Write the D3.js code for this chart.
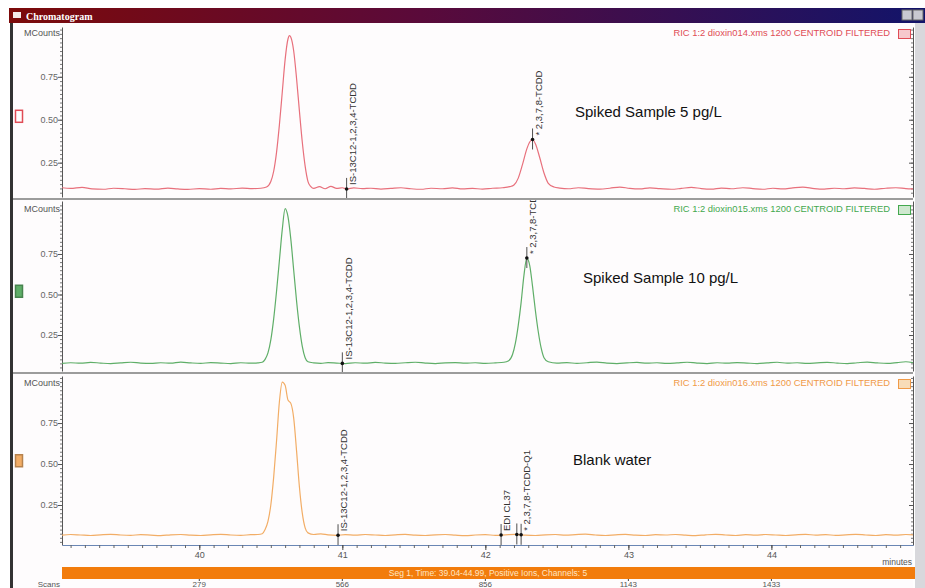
<!DOCTYPE html>
<html>
<head>
<meta charset="utf-8">
<script src="https://cdn.jsdelivr.net/npm/d3@7"></script>
<style>
body { margin: 0; background: #fff; }
svg { display: block; font-family: "Liberation Sans", Arial, sans-serif; }
</style>
</head>
<body>
<div id="chart"></div>
<script>
//Data
var panelNames = ["Spiked Sample 5 pg/L", "Spiked Sample 10 pg/L", "Blank water"];
var panelFiles = ["RIC 1:2 dioxin014.xms 1200 CENTROID FILTERED",
                  "RIC 1:2 dioxin015.xms 1200 CENTROID FILTERED",
                  "RIC 1:2 dioxin016.xms 1200 CENTROID FILTERED"];
var panelDomains = [[0.05, 1.04], [0.028, 1.077], [0.006, 1.037]];
var yTicks = [0.25, 0.50, 0.75];
var minuteTicks = [40, 41, 42, 43, 44];
var scanLabels = ["279", "566", "856", "1143", "1433"];
var timeRange = [39.04, 44.99];

var traceRed = [
  [39.04,0.104],[39.10,0.100],[39.18,0.106],[39.25,0.097],[39.33,0.095],[39.40,0.101],[39.48,0.098],[39.55,0.094],
  [39.62,0.099],[39.70,0.096],[39.78,0.102],[39.85,0.097],[39.92,0.094],[40.00,0.099],[40.08,0.095],[40.15,0.100],
  [40.22,0.097],[40.30,0.102],[40.37,0.099],[40.43,0.101],[40.47,0.108],
  [40.50,0.14],[40.52,0.20],[40.54,0.31],[40.56,0.47],[40.58,0.66],[40.60,0.85],[40.62,0.97],[40.63,0.99],
  [40.64,0.98],[40.66,0.90],[40.68,0.74],[40.70,0.55],[40.72,0.37],[40.74,0.23],[40.76,0.14],[40.78,0.11],
  [40.80,0.100],[40.84,0.110],[40.88,0.098],[40.92,0.112],[40.96,0.100],[41.00,0.104],[41.03,0.097],[41.08,0.103],
  [41.14,0.099],[41.20,0.101],[41.27,0.096],[41.34,0.100],[41.41,0.104],[41.48,0.098],[41.55,0.095],[41.62,0.101],
  [41.70,0.098],[41.77,0.103],[41.84,0.097],[41.91,0.100],[41.98,0.096],[42.05,0.101],[42.12,0.104],[42.17,0.110],
  [42.20,0.12],[42.23,0.16],[42.26,0.24],[42.29,0.33],[42.31,0.37],[42.33,0.385],[42.35,0.36],[42.38,0.28],
  [42.41,0.19],[42.44,0.13],[42.48,0.108],
  [42.52,0.102],[42.58,0.098],[42.65,0.104],[42.72,0.099],[42.80,0.096],[42.87,0.101],[42.94,0.108],[43.01,0.100],
  [43.08,0.097],[43.15,0.103],[43.22,0.099],[43.30,0.095],[43.37,0.100],[43.44,0.106],[43.51,0.099],[43.58,0.096],
  [43.65,0.102],[43.72,0.098],[43.80,0.104],[43.87,0.099],[43.94,0.095],[44.01,0.101],[44.08,0.097],[44.15,0.103],
  [44.22,0.107],[44.30,0.099],[44.37,0.096],[44.44,0.101],[44.51,0.098],[44.58,0.103],[44.65,0.100],[44.72,0.095],
  [44.80,0.101],[44.87,0.104],[44.94,0.099],[44.99,0.097]
];

var traceGreen = [
  [39.04,0.075],[39.10,0.079],[39.17,0.076],[39.24,0.081],[39.31,0.077],[39.38,0.074],[39.45,0.078],[39.52,0.082],
  [39.59,0.077],[39.66,0.075],[39.73,0.079],[39.80,0.076],[39.87,0.083],[39.94,0.078],[40.01,0.075],[40.08,0.080],
  [40.15,0.077],[40.22,0.074],[40.29,0.079],[40.36,0.076],[40.41,0.078],[40.44,0.082],
  [40.46,0.10],[40.48,0.14],[40.50,0.22],[40.52,0.35],[40.54,0.52],[40.56,0.71],[40.58,0.90],[40.60,1.03],
  [40.62,0.98],[40.64,0.84],[40.66,0.65],[40.68,0.46],[40.70,0.30],[40.72,0.18],[40.74,0.11],[40.76,0.085],
  [40.80,0.078],[40.85,0.075],[40.90,0.080],[40.96,0.077],[41.02,0.074],[41.09,0.079],[41.16,0.076],[41.23,0.081],
  [41.30,0.077],[41.37,0.075],[41.44,0.079],[41.51,0.082],[41.58,0.077],[41.65,0.074],[41.72,0.078],[41.79,0.080],
  [41.86,0.076],[41.93,0.079],[42.00,0.075],[42.07,0.078],[42.13,0.082],
  [42.16,0.09],[42.19,0.13],[42.21,0.20],[42.23,0.31],[42.25,0.45],[42.27,0.62],[42.29,0.725],[42.31,0.68],
  [42.33,0.55],[42.35,0.40],[42.37,0.27],[42.39,0.17],[42.41,0.11],[42.44,0.085],
  [42.50,0.077],[42.57,0.080],[42.64,0.075],[42.71,0.079],[42.78,0.083],[42.85,0.077],[42.92,0.074],[42.99,0.078],
  [43.06,0.081],[43.13,0.076],[43.20,0.079],[43.27,0.075],[43.34,0.078],[43.41,0.082],[43.48,0.077],[43.55,0.074],
  [43.62,0.079],[43.69,0.076],[43.76,0.080],[43.83,0.077],[43.90,0.074],[43.97,0.078],[44.04,0.082],[44.11,0.076],
  [44.18,0.079],[44.25,0.075],[44.32,0.078],[44.39,0.081],[44.46,0.077],[44.53,0.074],[44.60,0.079],[44.67,0.083],
  [44.74,0.078],[44.81,0.075],[44.88,0.080],[44.94,0.085],[44.99,0.079]
];

var traceOrange = [
  [39.04,0.066],[39.10,0.070],[39.17,0.067],[39.24,0.064],[39.31,0.068],[39.38,0.071],[39.45,0.067],[39.52,0.065],
  [39.59,0.069],[39.66,0.066],[39.73,0.063],[39.80,0.068],[39.87,0.070],[39.94,0.066],[40.01,0.064],[40.08,0.068],
  [40.15,0.071],[40.22,0.067],[40.29,0.065],[40.36,0.069],[40.41,0.070],
  [40.44,0.075],[40.46,0.10],[40.48,0.15],[40.50,0.25],[40.52,0.42],[40.54,0.64],[40.56,0.88],[40.58,1.00],
  [40.60,0.98],[40.62,0.89],[40.64,0.87],[40.66,0.78],[40.68,0.58],[40.70,0.36],[40.72,0.20],[40.74,0.11],[40.76,0.08],
  [40.80,0.070],[40.85,0.074],[40.90,0.068],[40.96,0.065],[41.02,0.069],[41.09,0.066],[41.16,0.070],[41.23,0.067],
  [41.30,0.064],[41.37,0.068],[41.44,0.071],[41.51,0.066],[41.58,0.064],[41.65,0.068],[41.72,0.070],[41.79,0.066],
  [41.86,0.063],[41.93,0.067],[42.00,0.069],[42.07,0.065],[42.14,0.068],[42.21,0.071],[42.28,0.066],[42.35,0.064],
  [42.42,0.068],[42.49,0.070],[42.56,0.066],[42.63,0.069],[42.70,0.072],[42.77,0.067],[42.84,0.064],[42.91,0.068],
  [42.98,0.071],[43.05,0.066],[43.12,0.064],[43.19,0.069],[43.26,0.067],[43.33,0.070],[43.40,0.066],[43.47,0.063],
  [43.54,0.068],[43.61,0.071],[43.68,0.067],[43.75,0.064],[43.82,0.069],[43.89,0.066],[43.96,0.070],[44.03,0.067],
  [44.10,0.064],[44.17,0.068],[44.24,0.071],[44.31,0.066],[44.38,0.069],[44.45,0.065],[44.52,0.068],[44.59,0.071],
  [44.66,0.067],[44.73,0.064],[44.80,0.069],[44.87,0.066],[44.94,0.070],[44.99,0.068]
];

var traces = [traceRed, traceGreen, traceOrange];
var lineColors = ["#e8707c", "#5fae68", "#f2ad66"];
var textColors = ["#e04c56", "#44a84e", "#f09a48"];

var markerPanel = [0, 0, 1, 1, 2, 2, 2, 2];
var markerTime = [41.03, 42.33, 41.00, 42.29, 40.97, 42.11, 42.22, 42.25];
var markerLabel = ["IS-13C12-1,2,3,4-TCDD", "* 2,3,7,8-TCDD", "IS-13C12-1,2,3,4-TCDD", "* 2,3,7,8-TCDD",
                   "IS-13C12-1,2,3,4-TCDD", "EDI CL37", "", "* 2,3,7,8-TCDD-Q1"];

//Layout
var width = 925, height = 588;
var plotLeft = 62, plotRight = 913;
var panelBox = [
  {top: 24, bottom: 198, y0: 197, y1: 27},
  {top: 200, bottom: 372, y0: 371, y1: 201},
  {top: 374, bottom: 545, y0: 545, y1: 376}
];
var labelPos = [{x: 575, y: 117}, {x: 583, y: 283}, {x: 573, y: 465}];

var svg = d3.select("#chart")
  .append("svg")
    .attr("width", width)
    .attr("height", height);

var defs = svg.append("defs");
var grad = defs.append("linearGradient").attr("id", "titleGrad");
grad.append("stop").attr("offset", "0%").attr("stop-color", "#7c0a0a");
grad.append("stop").attr("offset", "45%").attr("stop-color", "#5a0a3a");
grad.append("stop").attr("offset", "100%").attr("stop-color", "#12146a");

//Title bar
svg.append("rect").attr("x", 9).attr("y", 8).attr("width", width - 9).attr("height", 15)
  .attr("fill", "url(#titleGrad)");
svg.append("rect").attr("x", 13).attr("y", 12).attr("width", 8).attr("height", 6).attr("fill", "#f4eaea");
svg.append("text").attr("x", 26).attr("y", 19.5)
  .style("font-family", "'Liberation Serif', serif").style("font-weight", "bold")
  .style("font-size", "10px").attr("fill", "#fff").text("Chromatogram");
svg.append("rect").attr("x", 902).attr("y", 10).attr("width", 10).attr("height", 10).attr("fill", "#c8c8d0").attr("stroke", "#666");
svg.append("rect").attr("x", 913).attr("y", 10).attr("width", 10).attr("height", 10).attr("fill", "#c8c8d0").attr("stroke", "#666");

//Window background and borders
svg.append("rect").attr("x", 13).attr("y", 23).attr("width", plotRight - 13).attr("height", height - 23).attr("fill", "#fefcfd");
svg.append("rect").attr("x", 915).attr("y", 23).attr("width", 10).attr("height", height - 23).attr("fill", "#d8d8dc");
svg.append("line").attr("x1", 11.5).attr("x2", 11.5).attr("y1", 23).attr("y2", height)
  .attr("stroke", "#333").attr("stroke-width", 3);

//X scale
var x = d3.scaleLinear().domain(timeRange).range([plotLeft, plotRight]);

function traceValue(trace, t) {
  var i = d3.bisector(function(d) { return d[0]; }).left(trace, t);
  if (i <= 0) return trace[0][1];
  if (i >= trace.length) return trace[trace.length - 1][1];
  var a = trace[i - 1], b = trace[i];
  return a[1] + (b[1] - a[1]) * (t - a[0]) / (b[0] - a[0]);
}

panelBox.forEach(function(box, i) {
  var y = d3.scaleLinear().domain(panelDomains[i]).range([box.y0, box.y1]);
  var g = svg.append("g");

  defs.append("clipPath").attr("id", "clip" + i)
    .append("rect").attr("x", plotLeft).attr("y", box.top)
    .attr("width", plotRight - plotLeft).attr("height", box.bottom - box.top);

  //Minor ticks left and right
  var minor = d3.range(0.025, 1.06, 0.025).filter(function(v) {
    return v > panelDomains[i][0] && v < panelDomains[i][1];
  });
  [plotLeft, plotRight].forEach(function(ax) {
    var a = g.append("g").attr("transform", "translate(" + ax + ",0)")
      .call(d3.axisLeft(y).tickValues(minor).tickSize(2).tickSizeOuter(0).tickFormat(""));
    a.select(".domain").attr("stroke", "#555");
    a.selectAll("line").attr("stroke", "#777");
    var b = g.append("g").attr("transform", "translate(" + ax + ",0)")
      .call(d3.axisLeft(y).tickValues(yTicks).tickSize(4).tickSizeOuter(0)
        .tickFormat(ax === plotLeft ? d3.format(".2f") : ""));
    b.select(".domain").remove();
    b.selectAll("line").attr("stroke", "#555");
    b.selectAll("text").attr("fill", "#666").style("font-size", "9px").attr("x", -4);
  });

  g.append("text").attr("x", plotLeft - 2).attr("y", box.top + 12).attr("text-anchor", "end")
    .style("font-size", "9px").attr("fill", "#555").text("MCounts");

  //File label
  g.append("text").attr("x", 890).attr("y", box.top + 12).attr("text-anchor", "end")
    .style("font-size", "9.4px").attr("fill", textColors[i]).text(panelFiles[i]);
  g.append("rect").attr("x", 898.5).attr("y", box.top + 5.5).attr("width", 12).attr("height", 9)
    .attr("fill", i === 0 ? "#f6c8cc" : (i === 1 ? "#cfe8cf" : "#f8dcb8")).attr("stroke", textColors[i]);

  //Left legend box
  g.append("rect").attr("x", 15.5).attr("y", y(0.52) - 6).attr("width", 7).attr("height", 12)
    .attr("fill", i === 0 ? "#fff" : lineColors[i]).attr("stroke", i === 0 ? textColors[0] : d3.color(lineColors[i]).darker(0.8))
    .attr("stroke-width", 1.5);

  //Trace
  g.append("path")
    .datum(traces[i])
    .attr("clip-path", "url(#clip" + i + ")")
    .attr("fill", "none")
    .attr("stroke", lineColors[i])
    .attr("stroke-width", 1.2)
    .attr("d", d3.line()
      .x(function(d) { return x(d[0]); })
      .y(function(d) { return y(d[1]); })
      .curve(d3.curveMonotoneX));

  //Sample label
  g.append("text").attr("x", labelPos[i].x).attr("y", labelPos[i].y)
    .style("font-size", "15px").attr("fill", "#111").text(panelNames[i]);

  //Peak markers
  var mg = g.append("g").attr("clip-path", "url(#clip" + i + ")");
  markerTime.forEach(function(t, k) {
    if (markerPanel[k] !== i) return;
    var xp = x(t), yp = y(traceValue(traces[i], t));
    mg.append("line").attr("x1", xp).attr("x2", xp).attr("y1", yp - 11).attr("y2", yp + 10)
      .attr("stroke", "#222").attr("stroke-width", 0.8);
    mg.append("circle").attr("cx", xp).attr("cy", yp).attr("r", 1.8).attr("fill", "#111");
    if (markerLabel[k]) {
      mg.append("text")
        .attr("transform", "translate(" + (xp + 6) + "," + (yp - 4) + ")rotate(-90)")
        .attr("dy", "0.35em")
        .style("font-size", "9.5px").attr("fill", "#333")
        .text(markerLabel[k]);
    }
  });
});

//Panel separators
[199, 373].forEach(function(sy) {
  svg.append("line").attr("x1", 13).attr("x2", plotRight).attr("y1", sy).attr("y2", sy)
    .attr("stroke", "#9c9c9c").attr("stroke-width", 2);
});

//X axis
var xMinor = d3.range(39.1, 45.0, 0.1).map(function(v) { return +v.toFixed(1); });
var xa = svg.append("g").attr("transform", "translate(0,545)")
  .call(d3.axisBottom(x).tickValues(xMinor).tickSize(3).tickSizeOuter(0).tickFormat(""));
xa.select(".domain").attr("stroke", "#6a86b4");
xa.selectAll("line").attr("stroke", "#666");
var xb = svg.append("g").attr("transform", "translate(0,545)")
  .call(d3.axisBottom(x).tickValues(minuteTicks).tickSize(5).tickFormat(d3.format("d")));
xb.select(".domain").remove();
xb.selectAll("line").attr("stroke", "#444");
xb.selectAll("text").attr("fill", "#555").style("font-size", "9px").attr("y", 7);

svg.append("text").attr("x", 912).attr("y", 565).attr("text-anchor", "end")
  .style("font-size", "8.5px").attr("fill", "#555").text("minutes");

//Segment bar
svg.append("rect").attr("x", plotLeft).attr("y", 567).attr("width", 853).attr("height", 12).attr("fill", "#f27c0c");
svg.append("text").attr("x", 488).attr("y", 576).attr("text-anchor", "middle")
  .style("font-size", "8.5px").attr("fill", "#ffe6c4")
  .text("Seg 1, Time: 39.04-44.99, Positive Ions, Channels: 5");

//Scans axis
minuteTicks.forEach(function(m, k) {
  svg.append("line").attr("x1", x(m)).attr("x2", x(m)).attr("y1", 579).attr("y2", 581).attr("stroke", "#444");
  svg.append("text").attr("x", x(m)).attr("y", 587).attr("text-anchor", "middle")
    .style("font-size", "8px").attr("fill", "#555").text(scanLabels[k]);
});
svg.append("text").attr("x", 60).attr("y", 587).attr("text-anchor", "end")
  .style("font-size", "8px").attr("fill", "#555").text("Scans");
</script>
</body>
</html>
